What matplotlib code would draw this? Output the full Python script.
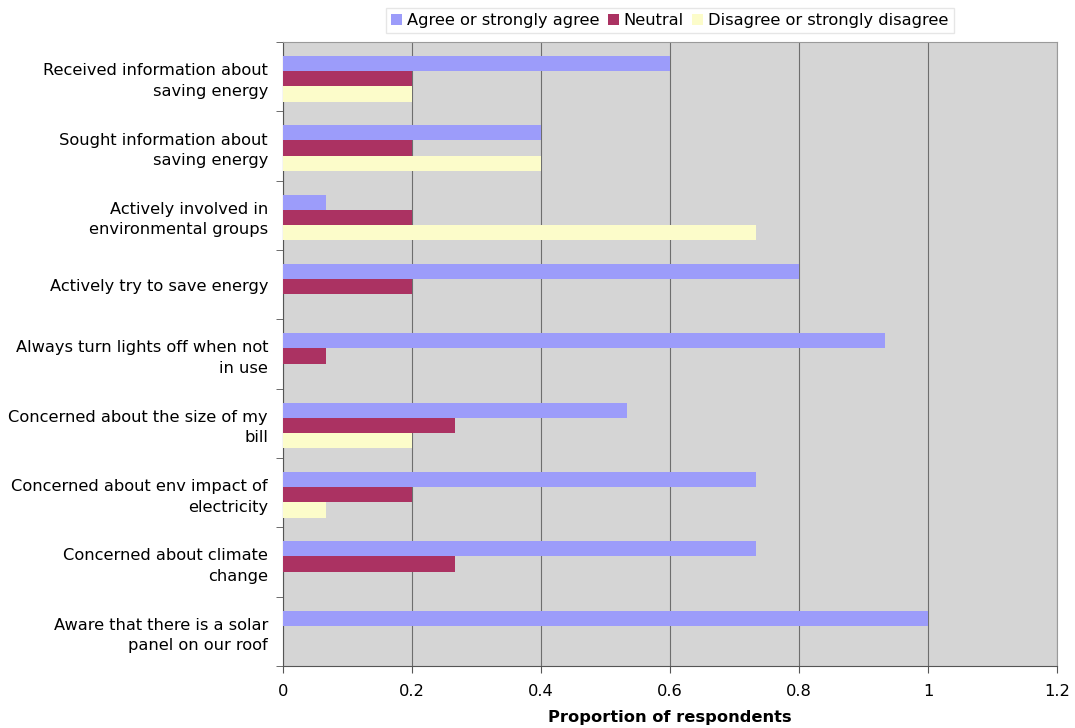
import matplotlib
matplotlib.use("Agg")
import matplotlib.pyplot as plt
import numpy as np

plt.rcParams['font.family'] = ['DejaVu Sans']

# Survey statements (top to bottom) and proportion of respondents per response
categories = [
    "Received information about\nsaving energy",
    "Sought information about\nsaving energy",
    "Actively involved in\nenvironmental groups",
    "Actively try to save energy",
    "Always turn lights off when not\nin use",
    "Concerned about the size of my\nbill",
    "Concerned about env impact of\nelectricity",
    "Concerned about climate\nchange",
    "Aware that there is a solar\npanel on our roof",
]
agree = [0.6, 0.4, 0.067, 0.8, 0.933, 0.533, 0.733, 0.733, 1.0]
neutral = [0.2, 0.2, 0.2, 0.2, 0.067, 0.267, 0.2, 0.267, 0.0]
disagree = [0.2, 0.4, 0.733, 0.0, 0.0, 0.2, 0.067, 0.0, 0.0]
series_names = ["Agree or strongly agree", "Neutral", "Disagree or strongly disagree"]
x_ticks = [0, 0.2, 0.4, 0.6, 0.8, 1, 1.2]
x_ticklabels = ["0", "0.2", "0.4", "0.6", "0.8", "1", "1.2"]

colors = ["#9C9CFA", "#AB3262", "#FCFCCA"]
fs = 11.7

fig = plt.figure(figsize=(10.75, 7.28), dpi=100)
ax = fig.add_axes([0.2633, 0.0852, 0.72, 0.8571])
ax.set_facecolor("#D5D5D5")

n = len(categories)
pos = np.arange(n)[::-1].astype(float)  # first category at top
h = 0.22
for vals, off, col, name in zip([agree, neutral, disagree], [h, 0, -h], colors, series_names):
    ax.barh(pos + off - 0.03, vals, height=h, color=col, label=name, zorder=3, linewidth=0)

ax.set_xlim(0, 1.2)
ax.set_ylim(-0.5, n - 0.5)
ax.set_xticks(x_ticks)
ax.set_xticklabels(x_ticklabels, fontsize=fs)
ax.xaxis.grid(True, color="#6E6E6E", linewidth=0.8, zorder=1)
ax.set_axisbelow(True)

# category labels centred on groups, tick marks at group boundaries
ax.set_yticks(pos)
ax.set_yticklabels(categories, fontsize=fs, multialignment="right", linespacing=1.45)
ax.tick_params(axis="y", length=0, pad=10.8)
ax.set_yticks(np.arange(n + 1) - 0.5, minor=True)
ax.tick_params(axis="y", which="minor", length=5, color="#555555")
ax.tick_params(axis="x", length=5, color="#555555", pad=8)

for side in ["left", "bottom"]:
    ax.spines[side].set_color("#555555")
for side in ["right", "top"]:
    ax.spines[side].set_color("#9A9A9A")

ax.set_xlabel("Proportion of respondents", fontsize=fs, fontweight="bold", labelpad=8)

leg = fig.legend(loc="upper center", bbox_to_anchor=(0.623, 1.0), ncol=3,
                 frameon=True, fontsize=fs, handlelength=0.7, handleheight=0.7,
                 handletextpad=0.3, columnspacing=0.5, borderpad=0.3,
                 fancybox=False, edgecolor="#E0E0E0")

fig.savefig("out.png", dpi=100, facecolor="white")
